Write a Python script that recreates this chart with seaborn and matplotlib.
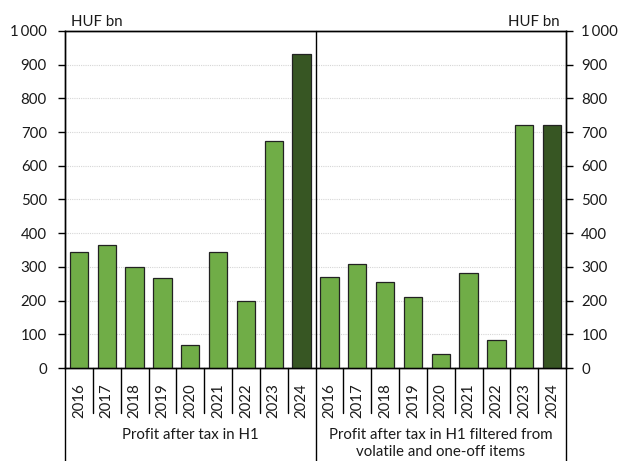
import matplotlib
matplotlib.use("Agg")
import matplotlib.pyplot as plt
import matplotlib.transforms as mtransforms
from matplotlib.lines import Line2D
import pandas as pd
import seaborn as sns

# Half-year profit after tax, HUF bn
years = ["2016", "2017", "2018", "2019", "2020", "2021", "2022", "2023", "2024"]
profit_h1 = [343, 366, 301, 267, 68, 345, 200, 674, 933]
profit_h1_filtered = [270, 309, 256, 211, 41, 281, 83, 721, 722]
group_labels = ["Profit after tax in H1",
                "Profit after tax in H1 filtered from\nvolatile and one-off items"]
y_ticks = [0, 100, 200, 300, 400, 500, 600, 700, 800, 900, 1000]
y_tick_labels = ["0", "100", "200", "300", "400", "500", "600", "700", "800", "900", "1\u2009000"]
unit_label = "HUF bn"

sns.set_theme(style="white")
plt.rcParams["font.family"] = ["Lato", "DejaVu Sans"]
text_color = "#1a1a1a"
fs = 10.8

rows = []
for g, series in enumerate([profit_h1, profit_h1_filtered]):
    for y, v in zip(years, series):
        rows.append({"key": f"{g}-{y}", "year": y, "value": v,
                     "kind": "latest" if y == years[-1] else "past"})
df = pd.DataFrame(rows)
order = list(df["key"])

fig = plt.figure(figsize=(6.21, 4.61), dpi=100)
ax = fig.add_axes([65 / 621, 1 - 368 / 461, (566 - 65) / 621, (368 - 31) / 461])

sns.barplot(data=df, x="key", y="value", hue="kind", order=order,
            palette={"past": "#70ad47", "latest": "#375623"}, saturation=1,
            dodge=False, width=0.66, edgecolor="#222222", linewidth=0.9,
            legend=False, ax=ax, zorder=3)

ax.set_xlim(-0.5, len(order) - 0.5)
ax.set_ylim(0, 1000)
ax.set_xlabel("")
ax.set_ylabel("")

# horizontal dotted grid
ax.set_yticks(y_ticks)
ax.set_yticklabels(y_tick_labels)
for t in y_ticks[1:-1]:
    ax.axhline(t, color="#d6d6d6", linestyle=(0, (1, 1)), linewidth=0.8, zorder=1)

ax.tick_params(axis="y", which="both", left=True, right=False, labelleft=True,
               labelright=False, direction="out", length=5, width=1,
               color="black", pad=8, labelsize=fs, labelcolor=text_color)
ax.set_xticks(range(len(order)))
ax.set_xticklabels(list(df["year"]), rotation=90, fontsize=fs, color=text_color)
ax.tick_params(axis="x", length=0, pad=11)

# mirrored value axis on the right
ax_r = ax.twinx()
ax_r.set_ylim(ax.get_ylim())
ax_r.set_yticks(y_ticks)
ax_r.set_yticklabels(y_tick_labels)
ax_r.tick_params(axis="y", right=True, direction="out", length=5, width=1,
                 color="black", pad=6, labelsize=fs, labelcolor=text_color)
ax_r.grid(False)

for a in (ax, ax_r):
    for s in ["left", "right", "top", "bottom"]:
        a.spines[s].set_visible(True)
        a.spines[s].set_color("black")
        a.spines[s].set_linewidth(1)

# category separators and group dividers below the axis
trans = mtransforms.blended_transform_factory(ax.transData, ax.transAxes)
sep_bottom = -(413 - 368) / 337
fig_bottom = -(461 - 368) / 337
n = len(years)
for i in range(1, len(order)):
    x = i - 0.5
    if i == n:
        ax.add_line(Line2D([x, x], [1, fig_bottom], transform=trans, color="black",
                           linewidth=1, clip_on=False, zorder=5))
    else:
        ax.add_line(Line2D([x, x], [0, sep_bottom], transform=trans, color="black",
                           linewidth=1, clip_on=False))
for x in [-0.5, len(order) - 0.5]:
    ax.add_line(Line2D([x, x], [0, fig_bottom], transform=trans, color="black",
                       linewidth=1, clip_on=False))

# group captions
for g, label in enumerate(group_labels):
    xc = g * n + (n - 1) / 2
    ax.text(xc, -(428 - 368) / 337, label, transform=trans, ha="center", va="top",
            fontsize=fs, color=text_color, linespacing=1.3)

fig.text(71 / 621, 1 - 26 / 461, unit_label, ha="left", va="baseline",
         fontsize=fs, color=text_color)
fig.text(560 / 621, 1 - 26 / 461, unit_label, ha="right", va="baseline",
         fontsize=fs, color=text_color)

fig.savefig("out.png", dpi=100, facecolor="white")
